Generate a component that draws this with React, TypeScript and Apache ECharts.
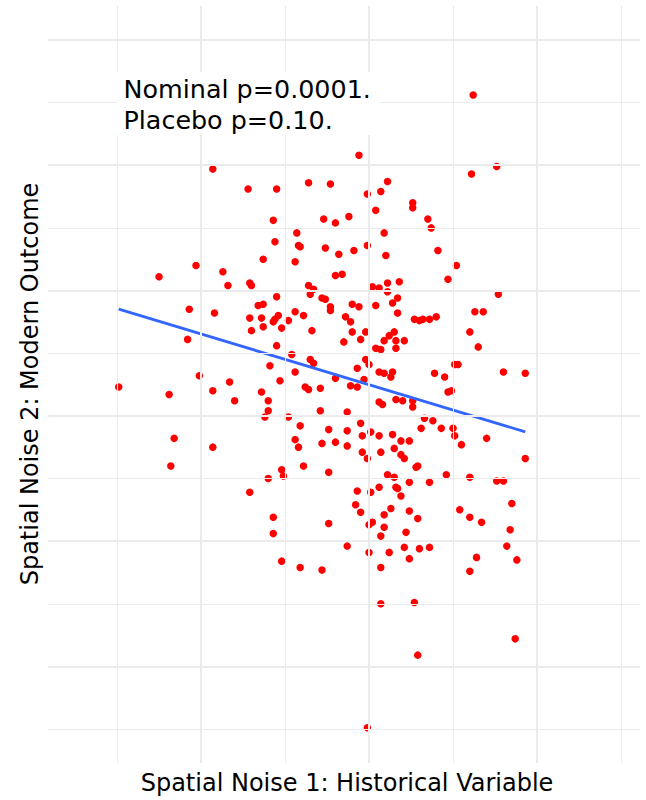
import React, { useEffect, useRef } from "react";
import * as echarts from "echarts";

const xValues = [
  -0.06, 0.61, 0.76, -0.23, 0.11, 0.07, -0.01, 0.04, 0.26, 0.26,
  -0.27, -0.2, -0.12, 0.35, 0.37, 0.09, -0.26, -0.18, -0.09, -0.01,
  0.1, 0.41, 0.52, 0.47, -0.2, -0.16, 0.02, 0.06, 0.11, 0.18,
  0.11, 0.17, -0.28, -0.26, 0.77, -0.93, -0.72, -0.55, -0.36, -0.57,
  -0.43, -0.56, -0.42, -0.41, -0.63, -0.44, -1.03, -1.25, -0.87, -0.84,
  -0.71, -0.7, -0.55, -0.36, -0.33, -0.35, -1.07, -0.92, -0.66, -0.63,
  -0.71, -0.64, -0.54, -0.56, -0.57, -0.44, -0.39, -0.48, -0.7, -0.63,
  -0.52, -0.34, -1.08, -0.55, -0.46, -0.35, -0.33, -0.59, -0.44, -1.49,
  -1.19, -1.01, -0.83, -0.93, -0.8, -0.64, -0.53, -0.6, -0.6, -0.62,
  -0.38, -0.36, -0.29, -0.29, -0.48, -0.41, -1.16, -0.93, -0.44, -0.42,
  -0.28, -0.23, -0.23, -0.1, -0.06, 0.04, 0.14, 0.17, -0.14, -0.11,
  0.27, 0.3, 0.32, 0.36, 0.4, 0.63, 0.68, 0.6, 0.65, -0.1,
  -0.02, -0.15, -0.05, 0.09, 0.12, 0.15, 0.16, 0.21, 0.04, 0.07,
  0.16, -0.02, 0.0, -0.07, 0.06, 0.09, 0.14, 0.13, -0.2, -0.03,
  -0.11, -0.07, 0.39, 0.45, 0.51, 0.53, 0.8, 0.93, 0.47, 0.49,
  0.06, 0.08, 0.16, 0.2, 0.26, 0.26, -0.13, 0.33, 0.38, -0.05,
  0.31, 0.43, 0.5, 0.51, 0.55, 0.7, -0.24, -0.13, -0.2, -0.13,
  -0.04, 0.01, 0.06, 0.14, 0.19, 0.24, 0.15, -0.04, 0.07, -0.01,
  0.19, 0.21, 0.93, -1.18, -0.52, -0.39, -0.6, -0.51, -0.71, -0.57,
  -0.57, -0.52, -0.41, -0.28, -0.24, 0.28, 0.29, 0.11, 0.15, 0.24,
  0.36, 0.46, 0.6, 0.76, 0.8, -0.07, 0.01, 0.06, 0.16, 0.17,
  0.19, -0.08, -0.05, 0.09, 0.13, 0.24, 0.29, -0.24, 0.0, 0.02,
  0.09, 0.07, 0.22, 0.54, 0.6, 0.67, 0.85, 0.84, -0.13, 0.0,
  0.12, 0.21, 0.3, 0.36, 0.24, 0.82, 0.64, 0.88, 0.07, 0.6,
  0.07, 0.27, 0.87, 0.29, -0.01, 0.62,
];

const yValues = [
  2.08, 1.93, 1.99, 1.85, 1.87, 1.79, 1.77, 1.64, 1.7, 1.66,
  1.57, 1.54, 1.59, 1.57, 1.5, 1.46, 1.34, 1.29, 1.32, 1.36,
  1.28, 1.32, 1.2, 1.09, 1.12, 1.13, 1.03, 1.02, 1.06, 1.07,
  0.99, 0.94, 0.94, 0.93, 0.97, 1.97, 1.81, 1.81, 1.86, 1.56,
  1.46, 1.39, 1.36, 1.35, 1.25, 1.23, 1.2, 1.11, 1.15, 1.04,
  1.06, 1.04, 0.95, 1.04, 1.01, 0.97, 0.85, 0.82, 0.88, 0.89,
  0.78, 0.78, 0.8, 0.77, 0.75, 0.83, 0.8, 0.76, 0.68, 0.71,
  0.7, 0.68, 0.61, 0.56, 0.49, 0.45, 0.42, 0.4, 0.35, 0.23,
  0.17, 0.32, 0.27, 0.2, 0.12, 0.19, 0.28, 0.12, 0.04, -0.01,
  0.23, 0.21, 0.22, 0.04, -0.01, -0.08, -0.18, -0.25, -0.19, -0.25,
  -0.22, 0.87, 0.84, 0.89, 0.87, 0.88, 0.9, 0.82, 0.79, 0.75,
  0.77, 0.76, 0.77, 0.77, 0.79, 0.83, 0.83, 0.67, 0.55, 0.67,
  0.67, 0.59, 0.61, 0.6, 0.64, 0.67, 0.6, 0.6, 0.54, 0.53,
  0.54, 0.45, 0.41, 0.38, 0.35, 0.34, 0.35, 0.31, 0.3, 0.29,
  0.24, 0.23, 0.34, 0.31, 0.41, 0.41, 0.35, 0.34, 0.19, 0.2,
  0.11, 0.09, 0.13, 0.12, 0.12, 0.07, 0.03, -0.02, -0.04, -0.06,
  -0.1, -0.1, -0.1, -0.16, -0.23, -0.18, -0.11, -0.12, -0.21, -0.24,
  -0.16, -0.13, -0.16, -0.15, -0.2, -0.2, -0.26, -0.29, -0.29, -0.34,
  -0.31, -0.34, -0.34, -0.4, -0.43, -0.4, -0.5, -0.48, -0.61, -0.81,
  -0.94, -1.16, -1.21, -1.23, -0.45, -0.41, -0.4, -0.47, -0.49, -0.53,
  -0.53, -0.47, -0.49, -0.52, -0.52, -0.6, -0.61, -0.57, -0.57, -0.58,
  -0.64, -0.71, -0.77, -0.79, -0.74, -0.76, -0.82, -0.86, -0.87, -0.85,
  -0.89, -0.96, -0.93, -0.75, -0.81, -0.85, -0.7, -0.91, -1.04, -1.09,
  -1.09, -1.05, -1.06, -1.05, -1.14, -1.04, -1.13, -1.15, -1.21, -1.24,
  -1.5, -1.49, -1.78, -1.91, -2.49, 2.56,
];

// fitted regression line (endpoints at data x range)
const fitX = [-1.49, 0.93];
const fitY = [0.852, -0.128];

const majorX = [-1, 0, 1];
const minorX = [-1.5, -0.5, 0.5, 1.5];
const majorY = [-2, -1, 0, 1, 2, 3];
const minorY = [-2.5, -1.5, -0.5, 0.5, 1.5, 2.5];

const annotationLines = ["Nominal p=0.0001.", "Placebo p=0.10."];
const xTitle = "Spatial Noise 1: Historical Variable";
const yTitle = "Spatial Noise 2: Modern Outcome";

const FONT = "'DejaVu Sans', sans-serif";
const GRID_COLOR = "#EBEBEB";

export default function App() {
  const ref = useRef<HTMLDivElement>(null);

  useEffect(() => {
    if (!ref.current) return;
    const chart = echarts.init(ref.current, undefined, { renderer: "svg" });

    const points = xValues.map((x, i) => [x, yValues[i]]);
    const fitData = fitX.map((x, i) => [x, fitY[i]]);

    const gridLines: any[] = [
      ...minorX.map((v) => ({ xAxis: v, lineStyle: { color: GRID_COLOR, width: 1, type: "solid" } })),
      ...minorY.map((v) => ({ yAxis: v, lineStyle: { color: GRID_COLOR, width: 1, type: "solid" } })),
      ...majorX.map((v) => ({ xAxis: v, lineStyle: { color: GRID_COLOR, width: 2, type: "solid" } })),
      ...majorY.map((v) => ({ yAxis: v, lineStyle: { color: GRID_COLOR, width: 2, type: "solid" } })),
    ];

    chart.setOption({
      animation: false,
      backgroundColor: "#FFFFFF",
      grid: { left: 48, right: 6, top: 6, bottom: 37, containLabel: false },
      xAxis: {
        type: "value",
        min: -1.911,
        max: 1.613,
        show: false,
        splitLine: { show: false },
      },
      yAxis: {
        type: "value",
        min: -2.771,
        max: 3.271,
        show: false,
        splitLine: { show: false },
      },
      series: [
        {
          type: "scatter",
          data: [],
          z: 1,
          silent: true,
          markLine: {
            silent: true,
            symbol: ["none", "none"],
            label: { show: false },
            emphasis: { disabled: true },
            animation: false,
            data: gridLines,
          },
        },
        {
          type: "scatter",
          data: points,
          symbol: "circle",
          symbolSize: 7.5,
          itemStyle: { color: "#FF0000", opacity: 1, borderWidth: 0 },
          z: 2,
          silent: true,
        },
        {
          type: "line",
          data: fitData,
          showSymbol: false,
          symbol: "none",
          lineStyle: { color: "#3366FF", width: 2.8 },
          z: 3,
          silent: true,
        },
      ],
      graphic: [
        {
          type: "rect",
          shape: { x: 117, y: 72, width: 263, height: 63 },
          style: { fill: "#FFFFFF" },
          z: 10,
          silent: true,
        },
        {
          type: "text",
          x: 123.5,
          y: 89,
          z: 11,
          style: {
            text: annotationLines[0],
            font: `25.4px ${FONT}`,
            fill: "#000000",
            textAlign: "left",
            textVerticalAlign: "middle",
          },
        },
        {
          type: "text",
          x: 123.5,
          y: 120.3,
          z: 11,
          style: {
            text: annotationLines[1],
            font: `25.4px ${FONT}`,
            fill: "#000000",
            textAlign: "left",
            textVerticalAlign: "middle",
          },
        },
        {
          type: "text",
          x: 347,
          y: 783,
          z: 11,
          style: {
            text: xTitle,
            font: `24px ${FONT}`,
            fill: "#000000",
            textAlign: "center",
            textVerticalAlign: "middle",
          },
        },
        {
          type: "text",
          x: 30,
          y: 384,
          rotation: Math.PI / 2,
          z: 11,
          style: {
            text: yTitle,
            font: `24px ${FONT}`,
            fill: "#000000",
            textAlign: "center",
            textVerticalAlign: "middle",
          },
        },
      ],
    });

    return () => {
      chart.dispose();
    };
  }, []);

  return (
    <div
      ref={ref}
      style={{ position: "fixed", left: 0, top: 0, width: 646, height: 800, background: "#fff" }}
    />
  );
}
